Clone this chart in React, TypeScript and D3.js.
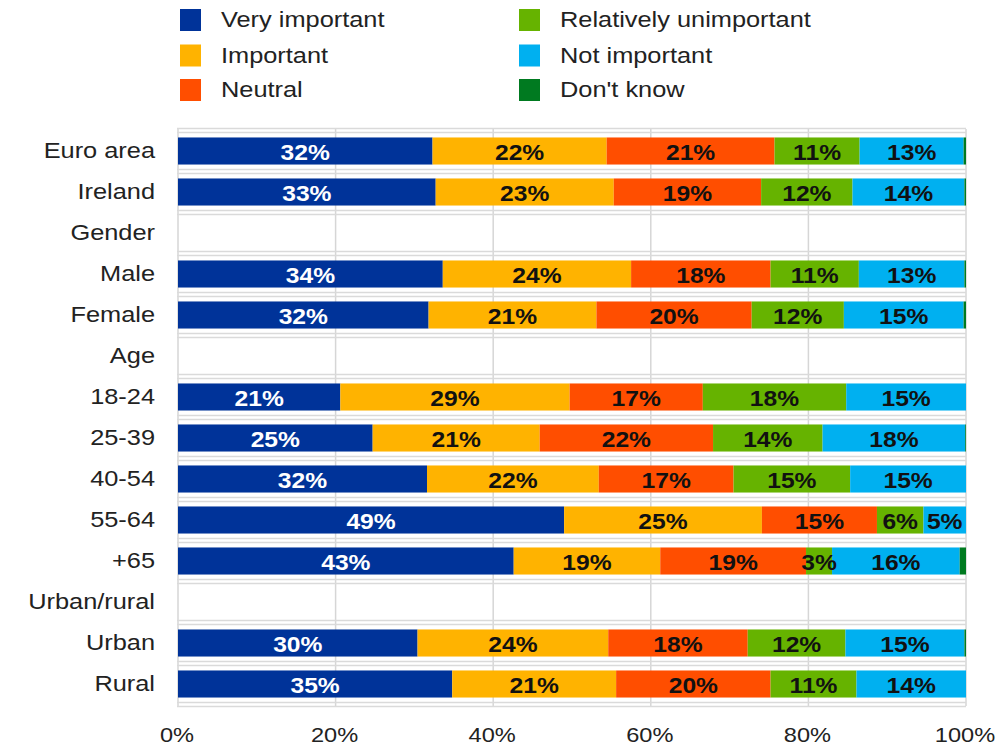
import { useEffect, useRef } from "react";
import * as d3 from "d3";

const categories = [
  "Euro area", "Ireland", "Gender", "Male", "Female", "Age", "18-24", "25-39",
  "40-54", "55-64", "+65", "Urban/rural", "Urban", "Rural",
];

// null = heading row without a bar
const veryImportant = [32.3, 32.7, null, 33.6, 31.8, null, 20.6, 24.7, 31.6, 49.0, 42.6, null, 30.4, 34.8];
const important = [22.1, 22.6, null, 23.9, 21.3, null, 29.1, 21.2, 21.8, 25.1, 18.6, null, 24.2, 20.8];
const neutral = [21.3, 18.7, null, 17.7, 19.7, null, 16.9, 22.0, 17.1, 14.6, 18.5, null, 17.7, 19.6];
const relUnimportant = [10.8, 11.6, null, 11.2, 11.7, null, 18.2, 13.9, 14.8, 5.9, 3.3, null, 12.4, 10.9];
const notImportant = [13.2, 14.2, null, 13.4, 15.2, null, 15.2, 18.1, 14.7, 5.4, 16.2, null, 15.1, 13.9];
const dontKnow = [0.3, 0.2, null, 0.2, 0.3, null, 0, 0.1, 0, 0, 0.8, null, 0.2, 0];

const seriesNames = [
  "Very important", "Important", "Neutral",
  "Relatively unimportant", "Not important", "Don't know",
];
const seriesValues = [veryImportant, important, neutral, relUnimportant, notImportant, dontKnow];
const colors = ["#003399", "#FFB300", "#FF4E00", "#66B300", "#00B0F0", "#007A20"];
const labelColors = ["#ffffff", "#111", "#111", "#111", "#111", "#111"];
const xTicks = [0, 20, 40, 60, 80, 100];

const W = 1008;
const H = 747;
const PLOT = { left: 178, right: 966, top: 130.5, bottom: 704.5 };
const SX = 1.18; // source picture is stretched horizontally
const FONT = "'Liberation Sans', Arial, sans-serif";

export default function App() {
  const svgRef = useRef<SVGSVGElement>(null);

  useEffect(() => {
    const svg = d3.select(svgRef.current);
    svg.selectAll("*").remove();
    svg.attr("width", W).attr("height", H).attr("viewBox", `0 0 ${W} ${H}`);

    svg.append("rect").attr("width", W).attr("height", H).attr("fill", "#fff");

    const x = d3.scaleLinear().domain([0, 100]).range([PLOT.left, PLOT.right]);
    const y = d3.scaleBand<string>()
      .domain(categories)
      .range([PLOT.top, PLOT.bottom])
      .paddingInner(0.34)
      .paddingOuter(0.17);
    const step = y.step();

    const addText = (
      g: d3.Selection<any, unknown, null, undefined>,
      tx: number, ty: number, text: string, size: number,
      anchor: string, fill: string, weight = "normal", sx = SX,
    ) => {
      g.append("text")
        .attr("transform", `translate(${tx},${ty}) scale(${sx},1)`)
        .attr("text-anchor", anchor)
        .attr("dominant-baseline", "central")
        .attr("font-family", FONT)
        .attr("font-size", size)
        .attr("font-weight", weight)
        .attr("fill", fill)
        .text(text);
    };

    const gridG = svg.append("g");
    // vertical gridlines
    xTicks.forEach((t) => {
      gridG.append("line")
        .attr("x1", x(t)).attr("x2", x(t))
        .attr("y1", PLOT.top - 1.5).attr("y2", PLOT.bottom + 1.5)
        .attr("stroke", "#d6d6d6").attr("stroke-width", 1.5);
    });
    // double horizontal lines at band boundaries
    d3.range(categories.length + 1).forEach((i) => {
      const yb = PLOT.top + i * step;
      [-2, 2].forEach((off) => {
        gridG.append("line")
          .attr("x1", PLOT.left - 1).attr("x2", PLOT.right)
          .attr("y1", yb + off).attr("y2", yb + off)
          .attr("stroke", "#dadada").attr("stroke-width", 1.3);
      });
    });

    // stacked data
    const table = categories.map((c, i) => {
      const row: Record<string, any> = { cat: c, empty: veryImportant[i] == null };
      seriesNames.forEach((s, si) => { row[s] = seriesValues[si][i] ?? 0; });
      return row;
    });
    const stacked = d3.stack<Record<string, any>>().keys(seriesNames)(table);

    const barG = svg.append("g");
    stacked.forEach((layer, si) => {
      layer.forEach((d) => {
        if (d.data.empty) return;
        const v = d[1] - d[0];
        if (v <= 0) return;
        barG.append("rect")
          .attr("x", x(d[0]))
          .attr("y", y(d.data.cat)!)
          .attr("width", x(d[1]) - x(d[0]))
          .attr("height", y.bandwidth())
          .attr("fill", colors[si]);
      });
    });

    const lblG = svg.append("g");
    stacked.forEach((layer, si) => {
      layer.forEach((d) => {
        if (d.data.empty) return;
        const v = d[1] - d[0];
        if (v < 2.5) return;
        addText(
          lblG,
          x((d[0] + d[1]) / 2),
          y(d.data.cat)! + y.bandwidth() / 2 + 1,
          `${Math.round(v)}%`, 22, "middle", labelColors[si], "bold", 1.12,
        );
      });
    });

    // category labels
    const catG = svg.append("g");
    categories.forEach((c) => {
      addText(catG, 155, y(c)! + y.bandwidth() / 2, c, 21.5, "end", "#222");
    });

    // x tick labels
    const tickG = svg.append("g");
    xTicks.forEach((t) => {
      addText(tickG, x(t) - 1, 735, `${t}%`, 20, "middle", "#222");
    });

    // legend
    const legG = svg.append("g");
    const cols = [180, 519];
    const rows = [20, 55.5, 90];
    seriesNames.forEach((s, i) => {
      const cx = cols[Math.floor(i / 3)];
      const cy = rows[i % 3];
      legG.append("rect")
        .attr("x", cx).attr("y", cy - 11)
        .attr("width", 21).attr("height", 22)
        .attr("fill", colors[i]);
      addText(legG, cx + 41, cy, s, 21.5, "start", "#222");
    });
  }, []);

  return (
    <div style={{ position: "absolute", left: 0, top: 0 }}>
      <svg ref={svgRef} style={{ display: "block" }} />
    </div>
  );
}
